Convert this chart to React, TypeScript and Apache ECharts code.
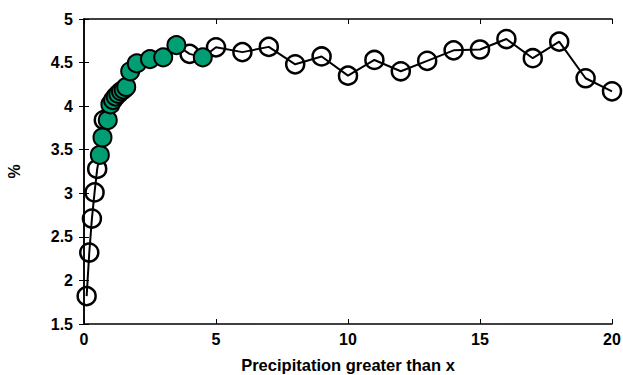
import React, { useEffect, useRef } from "react";
import * as echarts from "echarts";

const lineX = [0.1, 0.2, 0.3, 0.4, 0.5, 0.6, 0.7, 0.75, 0.9, 1.0, 1.1, 1.2, 1.3, 1.4, 1.5, 1.6, 1.75, 2.0, 2.5, 3.0, 3.5, 4, 4.5, 5, 6, 7, 8, 9, 10, 11, 12, 13, 14, 15, 16, 17, 18, 19, 20];
const lineY = [1.82, 2.32, 2.71, 3.01, 3.28, 3.44, 3.64, 3.84, 3.84, 4.02, 4.07, 4.11, 4.14, 4.17, 4.19, 4.22, 4.40, 4.49, 4.54, 4.56, 4.70, 4.60, 4.56, 4.675, 4.62, 4.68, 4.48, 4.57, 4.35, 4.53, 4.40, 4.52, 4.64, 4.65, 4.77, 4.55, 4.74, 4.32, 4.17];
const greenX = [0.6, 0.7, 0.9, 1.0, 1.1, 1.2, 1.3, 1.4, 1.5, 1.6, 1.75, 2.0, 2.5, 3.0, 3.5, 4.5];
const xTicks = [0, 5, 10, 15, 20];
const yTicks = [1.5, 2, 2.5, 3, 3.5, 4, 4.5, 5];

const FONT = "Liberation Sans";

export default function App() {
  const ref = useRef<HTMLDivElement>(null);
  useEffect(() => {
    if (!ref.current) return;
    const chart = echarts.init(ref.current, undefined, { renderer: "svg" });
    const greenSet = new Set(greenX);
    const lineData = lineX.map((x, i) =>
      greenSet.has(x) ? { value: [x, lineY[i]], symbol: "none" } : { value: [x, lineY[i]] }
    );
    const greenData = greenX.map((x) => [x, lineY[lineX.indexOf(x)]]);
    const labelStyle = { color: "#000", fontFamily: FONT, fontWeight: "bold" as const, fontSize: 16 };
    const titleStyle = { ...labelStyle, fontSize: 16.5 };
    const axLine = { show: true, lineStyle: { color: "#000", width: 1.5 } };
    const tick = { show: true, inside: true, length: 5, lineStyle: { color: "#000", width: 1 } };
    chart.setOption({
      animation: false,
      grid: { left: 84, right: 11, top: 19, bottom: 51, containLabel: false, outerBoundsMode: "none" },
      xAxis: [
        {
          type: "value", min: 0, max: 20, interval: 5, position: "bottom",
          axisLine: axLine, axisTick: tick, splitLine: { show: false },
          axisLabel: { ...labelStyle, margin: 7, formatter: (v: number) => (xTicks.includes(v) ? String(v) : "") },
          name: "Precipitation greater than x", nameLocation: "middle", nameGap: 32,
          nameTextStyle: titleStyle,
        },
        {
          type: "value", min: 0, max: 20, interval: 5, position: "top",
          axisLine: axLine, axisTick: tick, splitLine: { show: false }, axisLabel: { show: false },
        },
      ],
      yAxis: [
        {
          type: "value", min: 1.5, max: 5, interval: 0.5, position: "left",
          axisLine: axLine, axisTick: tick, splitLine: { show: false },
          axisLabel: { ...labelStyle, margin: 11, formatter: (v: number) => (yTicks.includes(v) ? String(v) : "") },
          name: "%", nameLocation: "middle", nameGap: 62, nameRotate: 90,
          nameTextStyle: labelStyle,
        },
        {
          type: "value", min: 1.5, max: 5, interval: 0.5, position: "right",
          axisLine: axLine, axisTick: tick, splitLine: { show: false }, axisLabel: { show: false },
        },
      ],
      series: [
        {
          type: "line",
          data: lineData,
          symbol: "circle",
          symbolSize: 18,
          lineStyle: { color: "#000", width: 2 },
          itemStyle: { color: "rgba(0,0,0,0)", borderColor: "#000", borderWidth: 2.5 },
          z: 2,
        },
        {
          type: "scatter",
          data: greenData,
          symbol: "circle",
          symbolSize: 18,
          itemStyle: { color: "#009e73", borderColor: "#000", borderWidth: 2, opacity: 1 },
          z: 3,
        },
      ],
    });
    return () => chart.dispose();
  }, []);
  return <div ref={ref} style={{ width: 623, height: 375, position: "absolute", left: 0, top: 0 }} />;
}
